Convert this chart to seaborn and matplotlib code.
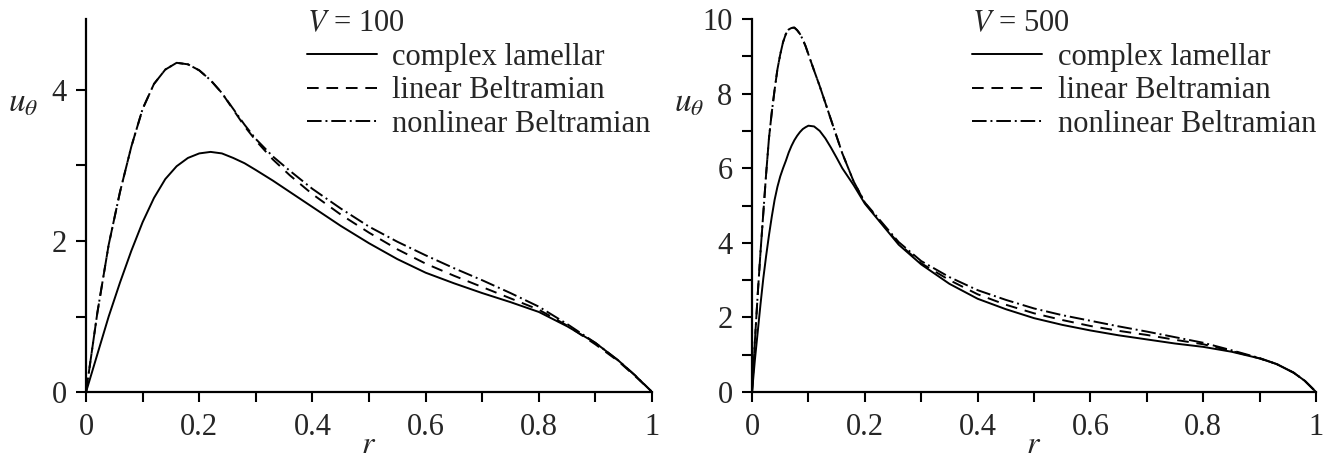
import numpy as np
import matplotlib
matplotlib.use("Agg")
import matplotlib.pyplot as plt
from matplotlib.ticker import MultipleLocator, FormatStrFormatter
import seaborn as sns

# ---- data ----
r_100 = [0, 0.02, 0.04, 0.06, 0.08, 0.10, 0.12, 0.14, 0.16, 0.18, 0.20, 0.22,
         0.24, 0.26, 0.28, 0.30, 0.33, 0.36, 0.40, 0.45, 0.50, 0.55, 0.60, 0.65,
         0.70, 0.75, 0.80, 0.85, 0.90, 0.94, 0.97, 1.0]
lamellar_100 = [0, 0.50, 1.00, 1.45, 1.87, 2.25, 2.57, 2.82, 2.99, 3.10, 3.16, 3.18,
                3.16, 3.10, 3.03, 2.94, 2.80, 2.65, 2.45, 2.20, 1.97, 1.76, 1.58, 1.44,
                1.31, 1.19, 1.06, 0.87, 0.65, 0.42, 0.22, 0]
linear_100 = [0, 1.05, 1.95, 2.65, 3.25, 3.75, 4.08, 4.27, 4.36, 4.34, 4.26, 4.13,
              3.96, 3.74, 3.52, 3.33, 3.08, 2.87, 2.62, 2.35, 2.11, 1.89, 1.70, 1.54,
              1.39, 1.24, 1.09, 0.88, 0.63, 0.41, 0.21, 0]
nonlinear_100 = [0, 1.05, 1.95, 2.65, 3.25, 3.75, 4.08, 4.27, 4.36, 4.34, 4.26, 4.13,
                 3.96, 3.75, 3.54, 3.35, 3.12, 2.93, 2.69, 2.43, 2.19, 1.99, 1.81, 1.64,
                 1.48, 1.31, 1.13, 0.90, 0.65, 0.42, 0.22, 0]

r_500 = [0, 0.005, 0.01, 0.015, 0.02, 0.025, 0.03, 0.035, 0.04, 0.045, 0.05, 0.055,
         0.06, 0.065, 0.07, 0.075, 0.08, 0.085, 0.09, 0.095, 0.10, 0.11,
         0.12, 0.13, 0.14, 0.15, 0.16, 0.18, 0.20, 0.23, 0.26, 0.30, 0.35, 0.40,
         0.45, 0.50, 0.55, 0.60, 0.65, 0.70, 0.75, 0.80, 0.85, 0.90, 0.93, 0.96,
         0.98, 1.0]
lamellar_500 = [0, 0.85, 1.6, 2.35, 3.05, 3.65, 4.2, 4.7, 5.15, 5.5, 5.78, 6.0,
                6.2, 6.42, 6.6, 6.75, 6.87, 6.97, 7.05, 7.1, 7.14, 7.12,
                7.0, 6.8, 6.55, 6.28, 6.0, 5.55, 5.05, 4.5, 3.95, 3.42, 2.90, 2.50,
                2.22, 1.98, 1.80, 1.65, 1.52, 1.41, 1.30, 1.21, 1.08, 0.90, 0.75, 0.52,
                0.30, 0]
linear_500 = [0, 1.35, 2.6, 3.75, 4.8, 5.85, 6.8, 7.5, 8.1, 8.65, 9.05, 9.38,
              9.6, 9.72, 9.76, 9.77, 9.7, 9.6, 9.45, 9.27, 9.05, 8.62,
              8.2, 7.75, 7.3, 6.85, 6.4, 5.65, 5.07, 4.52, 3.98, 3.45, 3.00, 2.62,
              2.34, 2.11, 1.93, 1.77, 1.64, 1.53, 1.40, 1.28, 1.10, 0.90, 0.75, 0.52,
              0.30, 0]
nonlinear_500 = [0, 1.35, 2.6, 3.75, 4.8, 5.85, 6.8, 7.5, 8.1, 8.65, 9.05, 9.38,
                 9.6, 9.72, 9.76, 9.77, 9.7, 9.6, 9.45, 9.27, 9.05, 8.62,
                 8.2, 7.75, 7.3, 6.85, 6.4, 5.65, 5.08, 4.55, 4.02, 3.51, 3.08, 2.73,
                 2.47, 2.24, 2.06, 1.91, 1.76, 1.62, 1.47, 1.32, 1.12, 0.91, 0.75, 0.52,
                 0.30, 0]

labels = ["complex lamellar", "linear Beltramian", "nonlinear Beltramian"]
titles = [r"$V$ = 100", r"$V$ = 500"]

sns.set_style("ticks")
plt.rcParams["font.family"] = ["Liberation Serif", "DejaVu Serif"]
plt.rcParams["mathtext.fontset"] = "stix"
plt.rcParams["font.size"] = 22

styles = ["-", (0, (6, 4)), (0, (7.5, 2, 1, 2))]

fig = plt.figure(figsize=(13.36, 4.57), dpi=100)
ax1 = fig.add_axes([0.0644, 0.1422, 0.4237, 0.8162])
ax2 = fig.add_axes([0.5629, 0.1422, 0.4222, 0.8162])

panels = [
    (ax1, r_100, [lamellar_100, linear_100, nonlinear_100], 4.94, 2),
    (ax2, r_500, [lamellar_500, linear_500, nonlinear_500], 10.0, 2),
]

for i, (ax, r, series, ytop, ystep) in enumerate(panels):
    for ys, ls, lab in zip(series, styles, labels):
        sns.lineplot(x=r, y=ys, ax=ax, color="black", linewidth=1.4,
                     linestyle=ls, label=lab, sort=False, estimator=None)
    ax.set_xlim(0, 1)
    ax.set_ylim(0, ytop)
    sns.despine(ax=ax)
    for s in ["left", "bottom"]:
        ax.spines[s].set_linewidth(1.6)
        ax.spines[s].set_color("black")
    ax.xaxis.set_major_locator(MultipleLocator(0.2))
    ax.xaxis.set_minor_locator(MultipleLocator(0.1))
    ax.yaxis.set_major_locator(MultipleLocator(ystep))
    ax.yaxis.set_minor_locator(MultipleLocator(ystep / 2))
    ax.xaxis.set_major_formatter(FormatStrFormatter("%g"))
    ax.yaxis.set_major_formatter(FormatStrFormatter("%g"))
    ax.tick_params(which="both", direction="out", length=7, width=1.5,
                   color="black", labelsize=22)
    ax.tick_params(axis="x", pad=8)
    ax.tick_params(axis="y", pad=7)
    ax.set_xlabel(r"$r$", fontsize=23, va="bottom")
    ax.xaxis.set_label_coords(0.5, -0.183)
    ax.set_ylabel(r"$u_\theta$", fontsize=24, rotation=0, ha="center", va="center")
    ax.yaxis.set_label_coords(-0.111, 0.775)
    leg = ax.legend(title=titles[i], loc="upper left", bbox_to_anchor=(0.39, 1.025),
                    frameon=False, handlelength=2.3, handletextpad=0.5,
                    labelspacing=0.14, borderpad=0, borderaxespad=0,
                    alignment="left", fontsize=22, title_fontsize=22)
    for h in leg.get_lines():
        h.set_linewidth(1.4)

fig.savefig("out.png", dpi=100)
